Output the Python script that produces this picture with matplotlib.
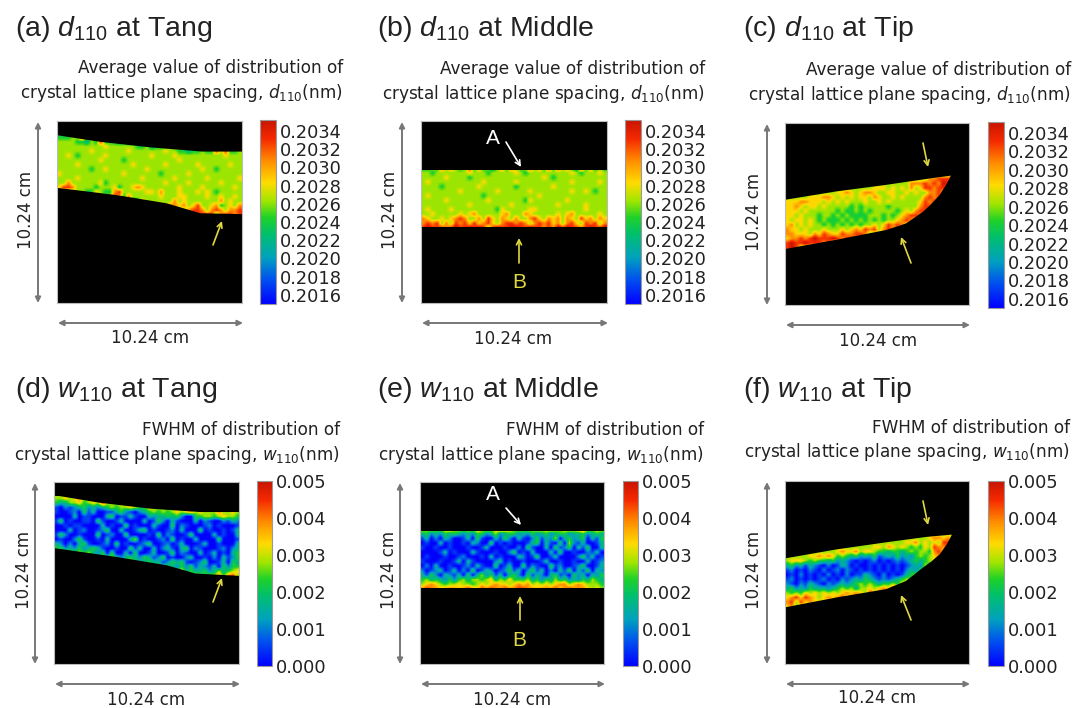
import matplotlib
matplotlib.use("Agg")
import matplotlib.pyplot as plt
import numpy as np
from matplotlib.colors import LinearSegmentedColormap, Normalize
from matplotlib.patches import Polygon

plt.rcParams['font.family'] = ['Liberation Sans', 'DejaVu Sans']
plt.rcParams['mathtext.fontset'] = 'custom'
plt.rcParams['mathtext.rm'] = 'Liberation Sans'
plt.rcParams['mathtext.it'] = 'Liberation Sans:italic'

W, H = 1075, 708
SMALL = 'DejaVu Sans'
CELL = 0.256

# specimen outlines in cm, measured from top left of each map
outline_a = [(0, .80), (2.37, 1.17), (5.15, 1.48), (8.02, 1.72), (10.24, 1.72), (10.24, 5.24), (7.93, 5.19), (6.07, 4.63), (3.3, 4.17), (0, 3.76)]
outline_b = [(0, 2.74), (10.24, 2.74), (10.24, 5.98), (0, 5.98)]
outline_c = [(0, 4.32), (2.85, 3.85), (5.63, 3.48), (7.85, 3.15), (9.24, 2.96), (8.95, 3.5), (8.59, 4.07), (8.1, 4.6), (7.67, 5.0), (6.74, 5.65), (5.63, 6.02), (2.85, 6.57), (0, 7.09)]
outline_d = [(0, .74), (2.55, 1.17), (5.33, 1.5), (8.1, 1.69), (10.24, 1.69), (10.24, 5.28), (7.83, 5.15), (6.26, 4.69), (3.48, 4.22), (0, 3.72)]
outline_e = [(0, 2.74), (10.24, 2.74), (10.24, 5.98), (0, 5.98)]
outline_f = [(0, 4.33), (2.85, 3.83), (5.63, 3.43), (7.85, 3.13), (9.29, 3.0), (9.0, 3.55), (8.6, 4.11), (8.15, 4.5), (7.67, 4.85), (6.74, 5.59), (5.63, 6.05), (2.85, 6.52), (0, 7.07)]

# map values read by eye on a 0.256 cm grid, digit 0-9 = bottom to top of colour scale
map_a = ["4445584555555555555555555555555555555555",
         "5555443548444343455555555555555555555555",
         "5555555555655555544534445455555555555555",
         "5555555655555556555555565544344544858445",
         "5565455555655555555565555655555555556555",
         "5555555556555545555555555565555555555555",
         "5555655555555555655555565555556555555655",
         "5555555455655555555655555555555655455555",
         "6555555555555565555555455555655555555555",
         "5555655555555555556555555655555565555556",
         "5575555556455555555555565555655555565555",
         "6887555545556455676555555565555655555565",
         "4545554465447855555665755565556565455555",
         "4444554345558747555555655566555565565565",
         "4444444444445554346555555756555555575655",
         "4444444444444444445546657767568556745657",
         "4444444444444444444444444455788757875778",
         "4444444444444444444444444444588888478878"]
map_b = ["4454857545847453574854585748485743847454",
         "5545555555655545555565455555555565455565",
         "5555565555455555555555555565455555555555",
         "5655555555555655555565555555555565555565",
         "5555455555556555555545555555655555555555",
         "5555555565555555655555565555555565565455",
         "5655555555555455555555555655555555555555",
         "5555565555555565555555465555555655555555",
         "5555555555655555555655555555565555565555",
         "5655556555555555465555566555555555565555",
         "5565555565675555567555765555565675555565",
         "7655656787557586576575578657675765867576",
         "7878575878686786578878757878675786587857",
         "8988878988989858988998898878798988789889"]
map_c = ["5555555555555555555555555555555555558855",
         "5555555555555555555555555555555778888555",
         "5555555555555555555555555557778787988755",
         "5555555555555555555666565657568878875555",
         "5555555555566765677655665565655778645555",
         "5555566677656565665765565655557878555555",
         "6667766656565655565565655555568787855555",
         "6676566565555545455555455555578875555555",
         "6665655555545445454555554565788785555555",
         "6656555455454544445554545678876555555555",
         "6566565454445454545454556787655555555555",
         "6756565545454545455656878765555555555555",
         "7665655565556567687857877455555555555555",
         "7766657687668778875576845555555555555555",
         "6778789888987887784555555555555555555555",
         "8988988878555555555555555555555555555555",
         "8985555555555555555555555555555555555555"]
map_d = ["5565675555555555555555555555555555555555",
         "4335564565855565655555555555555555555555",
         "1021234232345455654465555555555555555555",
         "1001204130011342102345454565675655575565",
         "0000301100034011310032334342004455456554",
         "1401001104100130000301420310003021002132",
         "0010110000301004010003100402100012010001",
         "0003012001240030013401001203000401001013",
         "1420010004012004000010402100140000301003",
         "0100241001030000350100120401003000040001",
         "3202034100120401001240012013000130010003",
         "4423242343100100413003023103402100012023",
         "6565454532404003040013001402100301301034",
         "5555556544545323432431240100230010203124",
         "5555555555665454543343312434101240013043",
         "5555555555555555765545434324241321304244",
         "5555555555555555555555766546343342353456",
         "5555555555555555555555555557865545574785"]
map_e = ["6565567565657565687656565766765676786566",
         "3423243432324423523442324234234423342343",
         "1302032001304100314203102413250342340314",
         "0100301001032004010100013403104052130013",
         "1001001000100130001002041003041240314003",
         "0000130100031000100240103000304001002130",
         "0100010012000103010003201400130000241301",
         "1000100130310000230100100013001001003012",
         "0203001001203100401300402100412001240013",
         "2012301302040132012413024130203140314032",
         "3142032130403524130342041320341204230324",
         "4534324245355456354644453424353423243543",
         "5676545565545656766567675656567756765554",
         "7877677767876878778778877677786787776565"]
map_f = ["5555555555555555555555555555555555556555",
         "5555555555555555555555555555555677675555",
         "5555555555555555555555555566756565887555",
         "5555555555555555555665765654546587785555",
         "5555555555567667566544344345455478665555",
         "5555566767645434232412324232454567875555",
         "5666545443423210101201012123434568755555",
         "3423132102013201001010101012325478755555",
         "1201021020120210101010101023245787555555",
         "0102010102010201132102010134565878555555",
         "1201010120102123243212123454658755555555",
         "2102132102123234545434454656787555555555",
         "3423243332345453556567687885655555555555",
         "5454656565656767658687845555555555555555",
         "6786876567678578765555555555555555555555",
         "7858676665555555555555555555555555555555",
         "6755555555555555555555555555555555555555"]

start_rows = [3, 10, 11, 3, 10, 11]
maps = [map_a, map_b, map_c, map_d, map_e, map_f]
outlines = [outline_a, outline_b, outline_c, outline_d, outline_e, outline_f]

letters = ['a', 'b', 'c', 'd', 'e', 'f']
symbols = ['d', 'd', 'd', 'w', 'w', 'w']
places = ['Tang', 'Middle', 'Tip', 'Tang', 'Middle', 'Tip']

d_ticks = [0.2034, 0.2032, 0.2030, 0.2028, 0.2026, 0.2024, 0.2022, 0.2020, 0.2018, 0.2016]
w_ticks = [0.000, 0.001, 0.002, 0.003, 0.004, 0.005]
d_range = (0.20150, 0.20352)
w_range = (-0.00001, 0.00501)

# layout in reference pixels
image_boxes = [(57, 121, 242, 303), (421, 121, 607, 303), (785, 123, 969, 305),
               (54, 482, 239, 664), (420, 482, 604, 664), (785, 481, 969, 664)]
bar_boxes = [(260, 120, 276, 304), (625, 120, 641, 304), (988, 122, 1004, 308),
             (257, 481, 272, 666), (623, 481, 638, 666), (988, 481, 1004, 666)]
title_pos = [(15, 36), (377, 36), (743, 36), (15, 397), (377, 397), (743, 397)]
label_pos = [(343, 68, 93), (705, 69, 94), (1071, 70, 95), (340, 430, 455), (704, 430, 455), (1070, 428, 452)]
v_arrow_x = [38, 402, 767, 35, 400, 767]
v_text_x = [26, 390, 754, 24, 389, 754]
v_text_y = [210, 210, 212, 570, 570, 570]
h_arrow_y = [323, 323, 325, 684, 684, 684]
h_text = [(150, 338), (513, 339), (878, 341), (146, 700), (512, 700), (877, 698)]

yellow = '#e0d840'
pointers = [((213, 245), (222, 221), yellow),
            ((506, 142), (521, 167), 'white'),
            ((519, 263), (519, 238), yellow),
            ((923, 143), (928, 167), yellow),
            ((911, 263), (901, 237), yellow),
            ((213, 602), (222, 578), yellow),
            ((506, 508), (521, 525), 'white'),
            ((520, 620), (520, 596), yellow),
            ((923, 501), (928, 525), yellow),
            ((911, 620), (901, 595), yellow)]
letter_marks = [('A', 493, 138, 'white'), ('B', 519, 282, yellow),
                ('A', 493, 495, 'white'), ('B', 519, 640, yellow)]

jet_like = LinearSegmentedColormap.from_list('jet_like', [
    (0, (0, 0, 1)), (.13, (0, .31, .94)), (.25, (0, .63, .75)), (.38, (0, .75, .43)),
    (.47, (.12, .82, .16)), (.56, (.63, .9, 0)), (.66, (1, .86, 0)), (.78, (1, .55, 0)),
    (.9, (.96, .16, 0)), (1, (.78, .08, 0))])


def rect(box):
    x0, y0, x1, y1 = box
    return [x0 / W, 1 - y1 / H, (x1 - x0) / W, (y1 - y0) / H]


fig = plt.figure(figsize=(W / 100, H / 100), dpi=100, facecolor='white')

for i in range(6):
    is_d = symbols[i] == 'd'
    lo, hi = d_range if is_d else w_range
    ax = fig.add_axes(rect(image_boxes[i]), facecolor='black')
    grid = lo + np.array([[int(c) for c in row] for row in maps[i]]) / 9 * (hi - lo)
    top = start_rows[i] * CELL
    bottom = top + len(maps[i]) * CELL
    im = ax.imshow(grid, cmap=jet_like, norm=Normalize(lo, hi), extent=(0, 10.24, bottom, top),
                   interpolation='bilinear', aspect='auto')
    ax.set_xlim(0, 10.24)
    ax.set_ylim(10.24, 0)
    im.set_clip_path(Polygon(outlines[i], transform=ax.transData))
    ax.set_xticks([])
    ax.set_yticks([])
    for s in ax.spines.values():
        s.set_color('#bbbbbb')

    cax = fig.add_axes(rect(bar_boxes[i]))
    cb = fig.colorbar(im, cax=cax, ticks=d_ticks if is_d else w_ticks)
    cb.ax.tick_params(length=0, pad=3, labelsize=12.8)
    cb.ax.set_yticklabels(['%.4f' % t for t in d_ticks] if is_d else ['%.3f' % t for t in w_ticks],
                          family=SMALL, color='#222222')
    cb.outline.set_edgecolor('#999999')

# everything else sits on one overlay in pixel coordinates
over = fig.add_axes([0, 0, 1, 1], zorder=5)
over.set_xlim(0, W)
over.set_ylim(H, 0)
over.axis('off')


def arrow(start, end, color, style='-|>', lw=1.2, size=8):
    over.annotate('', xy=end, xytext=start,
                  arrowprops=dict(arrowstyle=style, color=color, lw=lw, mutation_scale=size,
                                  shrinkA=0, shrinkB=0))


for i in range(6):
    sym = symbols[i]
    x, y = title_pos[i]
    over.text(x, y, r'(%s) $\mathit{%s}_{110}$ at %s' % (letters[i], sym, places[i]),
              fontsize=20.5, va='baseline', color='#222222', math_fontfamily='custom')

    first = 'Average value of distribution of' if sym == 'd' else 'FWHM of distribution of'
    rx, y1, y2 = label_pos[i]
    over.text(rx, y1, first, ha='right', va='center', fontsize=12.2, family=SMALL, color='#222222')
    over.text(rx, y2, r'crystal lattice plane spacing, $\mathit{%s}_{110}$(nm)' % sym,
              ha='right', va='center', fontsize=12.2, family=SMALL, color='#222222',
              math_fontfamily='dejavusans')

    x0, y0, x1, y1 = image_boxes[i]
    arrow((v_arrow_x[i], y0 + 1), (v_arrow_x[i], y1), '#777777', '<|-|>', lw=1.4)
    arrow((x0 + 1, h_arrow_y[i]), (x1 + 1, h_arrow_y[i]), '#777777', '<|-|>', lw=1.4)
    over.text(v_text_x[i], v_text_y[i], '10.24 cm', rotation=90, ha='center', va='center',
              fontsize=12, family=SMALL, color='#222222')
    over.text(h_text[i][0], h_text[i][1], '10.24 cm', ha='center', va='center',
              fontsize=12, family=SMALL, color='#222222')

for start, end, color in pointers:
    arrow(start, end, color, '->', lw=1.2, size=9)
for txt, x, y, color in letter_marks:
    over.text(x, y, txt, ha='center', va='center', fontsize=15, color=color)

fig.savefig('out.png', dpi=100)
